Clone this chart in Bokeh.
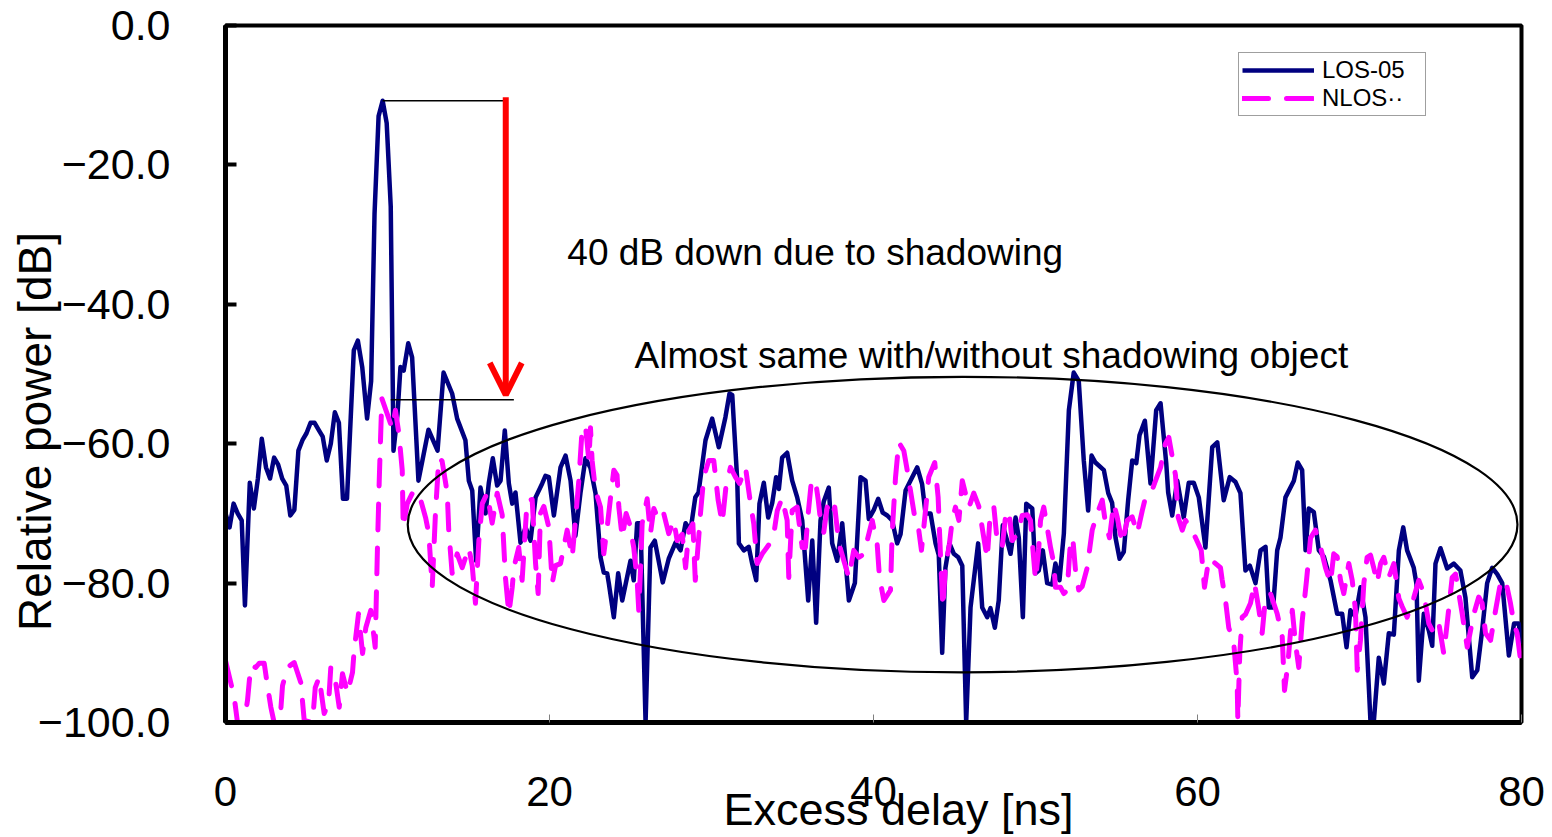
from bokeh.plotting import figure
from bokeh.models import (Range1d, FixedTicker, Label, Arrow, OpenHead, Legend, LegendItem)
from bokeh.embed import file_html
from bokeh.resources import INLINE

# ---------------- data ----------------
los_delay_ns = [
    0.0, 0.25, 0.5, 0.75, 1.0, 1.2, 1.5, 1.75, 2.0, 2.24,
    2.5, 2.75, 3.0, 3.25, 3.5, 3.75, 4.0, 4.25, 4.5, 4.75,
    5.0, 5.25, 5.5, 5.75, 6.0, 6.25, 6.5, 6.75, 7.0, 7.25,
    7.5, 7.92, 8.17, 8.44, 8.74, 8.99, 9.2, 9.45, 9.7, 9.95,
    10.2, 10.37, 10.62, 10.8, 11.0, 11.28, 11.52, 11.91, 12.53, 13.09,
    13.46, 13.99, 14.3, 14.81, 15.02, 15.23, 15.47, 15.74, 16.05, 16.25,
    16.5, 16.77, 16.98, 17.24, 17.49, 17.7, 17.9, 18.21, 18.52, 18.83,
    19.14, 19.55, 19.75, 19.96, 20.27, 20.68, 20.99, 21.3, 21.6, 21.91,
    22.22, 22.53, 22.84, 23.15, 23.35, 23.56, 23.66, 23.97, 24.24, 24.49,
    25.0, 25.2, 25.41, 25.62, 25.93, 26.23, 26.5, 26.99, 27.36, 27.78,
    28.09, 28.4, 28.7, 29.0, 29.2, 29.63, 30.04, 30.45, 30.86, 31.11,
    31.28, 31.59, 31.69, 32.0, 32.3, 32.51, 32.76, 32.96, 33.23, 33.5,
    33.75, 33.99, 34.16, 34.36, 34.67, 34.98, 35.29, 35.6, 35.97, 36.22,
    36.46, 36.73, 36.93, 37.24, 37.45, 37.76, 38.07, 38.48, 38.85, 39.2,
    39.51, 39.71, 40.02, 40.29, 40.57, 40.85, 41.15, 41.46, 41.67, 41.98,
    42.28, 42.7, 43.0, 43.21, 43.52, 43.83, 44.03, 44.24, 44.44, 44.69,
    44.96, 45.23, 45.48, 45.72, 45.99, 46.46, 46.71, 47.02, 47.22, 47.49,
    47.73, 47.98, 48.25, 48.46, 48.77, 48.97, 49.22, 49.43, 49.8, 50.0,
    50.2, 50.45, 50.72, 51.03, 51.23, 51.48, 51.75, 52.06, 52.36, 52.67,
    52.98, 53.25, 53.46, 53.7, 54.22, 54.49, 54.73, 54.94, 55.19, 55.45,
    55.72, 55.97, 56.22, 56.42, 56.75, 57.1, 57.45, 57.72, 58.07, 58.19,
    58.44, 58.75, 59.15, 59.46, 59.77, 60.08, 60.49, 60.91, 61.22, 61.62,
    61.99, 62.35, 62.65, 62.96, 63.23, 63.58, 63.89, 64.2, 64.4, 64.67,
    64.92, 65.12, 65.43, 65.95, 66.19, 66.46, 66.67, 66.87, 67.18, 67.49,
    67.8, 68.21, 68.62, 68.93, 69.2, 69.44, 69.75, 70.06, 70.37, 70.68,
    70.88, 71.19, 71.5, 71.81, 72.12, 72.43, 72.7, 72.94, 73.35, 73.52,
    73.66, 73.97, 74.28, 74.49, 74.69, 75.0, 75.41, 75.82, 76.23, 76.54,
    76.96, 77.27, 77.57, 77.88, 78.19, 78.5, 78.81, 79.22, 79.54, 79.83,
    80.0,
]
los_power_db = [
    -70, -72, -68.6, -70, -71, -83.2, -65.6, -69.3, -65, -59.3,
    -63.4, -65, -62, -63, -65, -66, -70.3, -69.5, -61, -59.5,
    -58.5, -57, -57, -58, -59, -62.4, -60, -55.5, -57, -67.9,
    -67.9, -46.6, -45.2, -49, -56.4, -51, -27, -13, -10.8, -14,
    -26, -61, -55.7, -49, -49.5, -45.6, -47.6, -65.3, -58, -61,
    -49.8, -52.8, -56.4, -59.5, -65.3, -66.7, -76.8, -66.3, -70, -65.7,
    -62.1, -66, -65.3, -58.1, -65.7, -68.6, -67, -74.2, -72, -73.9,
    -67.7, -65.7, -64.6, -64.8, -70.3, -63.4, -61.7, -65.3, -73.2, -67.1,
    -62.1, -63.5, -67.1, -76.3, -78.5, -78.6, -80, -84.9, -78.6, -82.5,
    -76.8, -79.6, -71.4, -71.4, -100, -74.9, -73.9, -79.9, -76.5, -74.2,
    -75.3, -71.4, -72.5, -67.7, -67, -59.5, -56.4, -60.5, -56.2, -52.8,
    -53, -65.3, -74.3, -75.3, -74.8, -77.2, -79.6, -68.6, -65.6, -70.6,
    -68.5, -64.8, -66.5, -62, -61.3, -65.3, -67.7, -71, -82.5, -73.9,
    -85.7, -71, -68.3, -66.3, -74.3, -76.8, -71.4, -82.5, -80, -64.8,
    -65.3, -70.8, -69.5, -67.9, -69.9, -70.3, -71, -74.3, -73, -66.7,
    -65.3, -63.4, -65.8, -70, -70, -74.3, -76, -90, -77.8, -74.3,
    -75.8, -76.3, -77.5, -100, -83.5, -74.3, -83.5, -84.9, -83.6, -86.4,
    -82.5, -71.7, -73.9, -75.8, -70.6, -73.5, -84.9, -68.6, -69.3, -78.6,
    -78.2, -75.3, -80, -80.2, -77.2, -79.6, -72.9, -55.2, -49.8, -51,
    -62.4, -69.6, -61.7, -62.7, -63.8, -67.1, -68.5, -73.5, -76.5, -75.5,
    -68.1, -62.4, -62.8, -58.8, -56.7, -65.7, -55.2, -54.2, -62.8, -67,
    -70.3, -65.3, -70.6, -65.6, -65.6, -67.7, -74.9, -60.5, -59.8, -68.1,
    -64.8, -65.5, -67.1, -78.2, -77.5, -80, -75.3, -74.8, -83.5, -83.5,
    -75.3, -73.5, -67.7, -65.3, -62.7, -63.8, -75.3, -69.3, -69.8, -75.3,
    -76.2, -79.6, -84.4, -84.4, -89.2, -83.9, -84.8, -80.6, -84.9, -100,
    -100, -90.7, -94.4, -87.2, -87.4, -75.3, -72, -75.3, -77.8, -80.2,
    -94, -84.4, -86.8, -89, -77.2, -75, -77.9, -77.2, -78.2, -82.1,
    -93.5, -92.5, -86.8, -80, -77.8, -78.7, -80, -90.4, -85.8, -85.8,
    -88.7,
]

nlos_delay_ns = [
    0.0, 0.54, 0.74, 1.15, 1.36, 1.56, 1.87, 2.08, 2.39, 2.59,
    2.8, 3.0, 3.41, 3.52, 3.83, 4.24, 4.65, 4.86, 5.37, 5.54,
    5.78, 6.09, 6.36, 6.5, 6.81, 7.02, 7.22, 7.53, 7.84, 7.94,
    8.21, 8.46, 8.66, 8.97, 9.24, 9.38, 9.49, 9.65, 9.98, 10.29,
    10.49, 10.7, 10.91, 10.97, 11.22, 11.62, 12.04, 12.35, 12.55, 12.76,
    12.96, 13.17, 13.37, 13.69, 13.78, 13.99, 14.3, 14.61, 15.02, 15.23,
    15.43, 15.64, 15.85, 16.15, 16.46, 16.77, 17.08, 17.28, 17.49, 17.7,
    17.8, 18.1, 18.31, 18.62, 18.93, 19.14, 19.3, 19.44, 19.65, 19.96,
    20.17, 20.37, 20.68, 21.09, 21.4, 21.6, 21.81, 22.02, 22.22, 22.43,
    22.53, 22.63, 22.84, 23.15, 23.35, 23.56, 23.77, 23.97, 24.17, 24.28,
    24.49, 24.73, 24.94, 25.2, 25.41, 25.51, 25.62, 25.72, 26.03, 26.23,
    26.44, 26.75, 27.05, 27.36, 27.67, 27.88, 28.19, 28.4, 28.6, 28.85,
    29.0, 29.21, 29.32, 29.52, 29.83, 30.14, 30.41, 30.66, 30.9, 31.17,
    31.48, 31.73, 32.1, 32.41, 32.61, 32.82, 33.13, 33.54, 33.85, 34.06,
    34.36, 34.67, 34.77, 34.98, 35.29, 35.39, 35.6, 35.8, 35.97, 36.17,
    36.42, 36.59, 36.73, 36.93, 37.14, 37.45, 37.61, 37.86, 38.17, 38.48,
    38.78, 39.09, 39.3, 39.61, 39.92, 40.23, 40.37, 40.64, 41.05, 41.15,
    41.36, 41.56, 41.87, 42.08, 42.28, 42.55, 42.8, 42.96, 43.21, 43.41,
    43.78, 43.99, 44.14, 44.28, 44.44, 44.69, 44.86, 45.06, 45.27, 45.48,
    45.89, 46.19, 46.5, 46.81, 47.02, 47.22, 47.43, 47.63, 47.94, 48.19,
    48.4, 48.56, 48.87, 49.18, 49.49, 49.69, 49.9, 50.0, 50.2, 50.31,
    50.51, 50.72, 50.93, 51.13, 51.23, 51.54, 51.75, 51.96, 52.16, 52.3,
    52.47, 52.67, 52.88, 53.19, 53.5, 53.81, 54.12, 54.32, 54.57, 54.83,
    55.04, 55.35, 55.66, 55.97, 56.28, 56.59, 56.79, 57.1, 57.41, 57.72,
    58.02, 58.23, 58.48, 58.64, 58.81, 59.06, 59.26, 59.57, 59.88, 60.23,
    60.43, 60.7, 61.01, 61.42, 61.52, 61.73, 61.93, 62.24, 62.45, 62.49,
    62.61, 62.76, 62.96, 63.27, 63.52, 63.79, 63.99, 64.2, 64.51, 64.92,
    65.23, 65.37, 65.58, 65.85, 66.05, 66.25, 66.46, 66.73, 66.98, 67.28,
    67.59, 67.9, 68.21, 68.41, 68.62, 68.83, 69.03, 69.34, 69.55, 69.75,
    69.86, 70.06, 70.27, 70.47, 70.68, 70.88, 71.09, 71.3, 71.5, 71.81,
    72.12, 72.43, 72.64, 72.94, 73.35, 73.66, 73.97, 74.28, 74.59, 74.9,
    75.2, 75.41, 75.72, 75.93, 76.34, 76.65, 77.06, 77.36, 77.57, 77.78,
    78.09, 78.4, 78.7, 79.01, 79.32, 79.53, 79.73, 80.0,
]
nlos_power_db = [
    -91.1, -96.4, -100, -100, -96.8, -91.8, -92.1, -91.5, -91.5, -94.7,
    -97.8, -100, -98.3, -94.7, -92.1, -91.4, -94.3, -99.7, -100, -95,
    -93.5, -98.7, -97.3, -92.1, -94.4, -97.8, -93, -95.8, -92.8, -89.7,
    -84.4, -90.1, -86.4, -83.9, -89.2, -74.9, -65.3, -53.5, -55.7, -57.8,
    -55.2, -58.5, -63.8, -72, -68.6, -66.7, -68, -70.6, -72.9, -80.6,
    -70, -62, -62.5, -67.1, -72.4, -78.6, -75.8, -77.8, -74.9, -77.5,
    -82.9, -73.9, -68.6, -67.1, -71.4, -67.1, -70.2, -79.2, -84.4, -80.6,
    -77.8, -74.9, -79.6, -68.1, -68, -77.2, -81.5, -70, -69, -72,
    -80, -77.5, -77.2, -72.4, -76.3, -71, -65.3, -57.7, -57.5, -62.4,
    -57.7, -62.4, -66.7, -69.1, -75.8, -72, -67.7, -63.8, -64.5, -69.1,
    -73.5, -70, -71.5, -74.9, -79.6, -83.9, -78, -71.4, -67.9, -72.9,
    -69.3, -71, -70, -72.9, -71, -73.9, -73, -77.8, -72.5, -71.5,
    -79.6, -73.5, -70, -64.8, -62.4, -62.4, -68.1, -71.4, -66, -63.4,
    -64.8, -65.7, -63.4, -68.6, -71.5, -77.2, -75.8, -74.5, -72.9, -69.6,
    -67.8, -71, -79.2, -69.6, -69.1, -71, -74.9, -74.9, -70, -65.3,
    -65.3, -68.1, -71, -72.7, -69.1, -70.5, -69.1, -74.3, -76.8, -79.2,
    -75.3, -76.3, -76, -73.9, -71, -74.5, -79.2, -82.5, -81, -72.9,
    -64.8, -59.8, -61, -63.8, -66.7, -70.6, -72.5, -75.3, -69.6, -64.8,
    -62.7, -67.7, -76.3, -83.5, -77.8, -74.3, -71, -69.1, -71, -65.3,
    -69.1, -67.1, -69, -73.5, -76.5, -69.6, -69.1, -73.9, -74.9, -69.6,
    -70.5, -73.9, -73, -70.3, -70.2, -71, -76.8, -79.6, -75, -71,
    -69.1, -72, -74.9, -77.2, -80.6, -80.6, -81.5, -81, -73.9, -73.5,
    -78.2, -81, -80.5, -77.8, -72.4, -70, -68.1, -71.4, -73.5, -68.6,
    -70.5, -74.3, -71, -70.5, -72.9, -69.6, -67.7, -67.3, -65.3, -63.4,
    -60, -59.1, -62.4, -64.5, -70.6, -72.4, -71, -72, -73.5, -75.3,
    -80.6, -76.5, -77, -77.8, -79.5, -82.5, -86.4, -88.7, -94.4, -99.7,
    -90, -84.9, -84.5, -82.9, -80, -83.8, -87.2, -82, -81.5, -84.4,
    -87.7, -95.4, -91.6, -83.9, -88.7, -92.1, -85.5, -79.6, -73.5, -72.4,
    -74.8, -77.8, -80, -75.8, -76.2, -79.6, -81.5, -77.2, -79.6, -83.9,
    -92.5, -88.2, -80, -76.3, -76, -77.8, -80, -77.2, -76.3, -79.2,
    -77.2, -82.2, -83.4, -84.9, -82.1, -79.6, -81.5, -85.8, -87.2, -85.8,
    -90.1, -85.8, -79.2, -78.7, -84.4, -89.2, -84.4, -82, -82.9, -87.2,
    -88.2, -83.9, -80, -79.5, -82.9, -85.8, -87.2, -92.1,
]

series_names = ["LOS-05", "NLOS\u00b7\u00b7"]
x_tick_values = [0, 20, 40, 60, 80]
x_tick_labels = ["0", "20", "40", "60", "80"]
y_tick_values = [0, -20, -40, -60, -80, -100]
y_tick_labels = ["0.0", "\u221220.0", "\u221240.0", "\u221260.0", "\u221280.0", "\u2212100.0"]
x_title = "Excess delay [ns]"
y_title = "Relative power [dB]"

FONT = "Liberation Sans"
NBSP = "\u00a0"

# ---------------- figure ----------------
p = figure(
    frame_width=1296, frame_height=697,
    min_border_left=225, min_border_top=25, min_border_right=27, min_border_bottom=110,
    x_range=Range1d(0, 80), y_range=Range1d(-100, 0),
    output_backend="svg", toolbar_location=None,
    background_fill_color="white", border_fill_color="white",
)
p.xgrid.visible = False
p.ygrid.visible = False
p.outline_line_color = "black"
p.outline_line_width = 4

# x axis
p.xaxis.ticker = FixedTicker(ticks=x_tick_values)
p.xaxis.major_label_overrides = dict(zip(x_tick_values, x_tick_labels))
p.xaxis.axis_line_width = 5
p.xaxis.axis_line_color = "black"
p.xaxis.major_tick_in = 8
p.xaxis.major_tick_out = 0
p.xaxis.major_tick_line_color = "#808080"
p.xaxis.major_tick_line_width = 1
p.xaxis.minor_tick_line_color = None
p.xaxis.major_label_standoff = 54
p.xaxis.major_label_text_font = FONT
p.xaxis.major_label_text_font_size = "42px"
p.xaxis.major_label_text_color = "black"
p.xaxis.axis_label = NBSP * 4 + x_title
p.xaxis.axis_label_standoff = -25
p.xaxis.axis_label_text_font = FONT
p.xaxis.axis_label_text_font_size = "45px"
p.xaxis.axis_label_text_font_style = "normal"
p.xaxis.axis_label_text_color = "black"

# y axis
p.yaxis.ticker = FixedTicker(ticks=y_tick_values)
p.yaxis.major_label_overrides = dict(zip(y_tick_values, y_tick_labels))
p.yaxis.axis_line_width = 5
p.yaxis.axis_line_color = "black"
p.yaxis.major_tick_in = 11
p.yaxis.major_tick_out = 0
p.yaxis.major_tick_line_color = "black"
p.yaxis.major_tick_line_width = 4
p.yaxis.minor_tick_line_color = None
p.yaxis.major_label_standoff = 55
p.yaxis.major_label_text_font = FONT
p.yaxis.major_label_text_font_size = "43px"
p.yaxis.major_label_text_color = "black"
p.yaxis.axis_label = y_title + NBSP * 9
p.yaxis.axis_label_standoff = -26
p.yaxis.axis_label_text_font = FONT
p.yaxis.axis_label_text_font_size = "46px"
p.yaxis.axis_label_text_font_style = "normal"
p.yaxis.axis_label_text_color = "black"

# ---------------- series ----------------
r_los = p.line(los_delay_ns, los_power_db, line_color="#000080", line_width=4.5,
               line_join="round")
r_nlos = p.line(nlos_delay_ns, nlos_power_db, line_color="#FF00FF", line_width=5,
                line_dash="26 18", line_cap="round", line_join="round")

# ---------------- annotations ----------------
p.ellipse(x=45.5, y=-71.6, width=68.5, height=42.4, fill_color=None,
          line_color="black", line_width=2.2)
p.segment(x0=[9.7, 10.2], y0=[-10.8, -53.7], x1=[17.3, 17.8], y1=[-10.8, -53.7],
          line_color="black", line_width=1.5)
p.add_layout(Arrow(end=OpenHead(line_color="red", line_width=6, size=32),
                   x_start=17.3, y_start=-10.3, x_end=17.3, y_end=-53.0,
                   line_color="red", line_width=6))

p.add_layout(Label(x=21.1, y=-32.6, text="40 dB down due to shadowing",
                   text_font=FONT, text_font_size="37px", text_color="black",
                   text_baseline="alphabetic"))
p.add_layout(Label(x=25.25, y=-47.3, text="Almost same with/without shadowing object",
                   text_font=FONT, text_font_size="37px", text_color="black",
                   text_baseline="alphabetic"))

# legend
legend = Legend(items=[LegendItem(label=series_names[0], renderers=[r_los]),
                       LegendItem(label=series_names[1], renderers=[r_nlos])],
                location=(1013, 606))
legend.label_text_font = FONT
legend.label_text_font_size = "24px"
legend.label_text_color = "black"
legend.glyph_width = 72
legend.glyph_height = 24
legend.label_height = 24
legend.label_width = 100
legend.label_standoff = 8
legend.padding = 3
legend.spacing = 0
legend.margin = 0
legend.border_line_color = "#404040"
legend.border_line_width = 1.5
legend.background_fill_color = "white"
legend.background_fill_alpha = 1.0
p.add_layout(legend)

open("out.html", "w").write(file_html(p, INLINE))
